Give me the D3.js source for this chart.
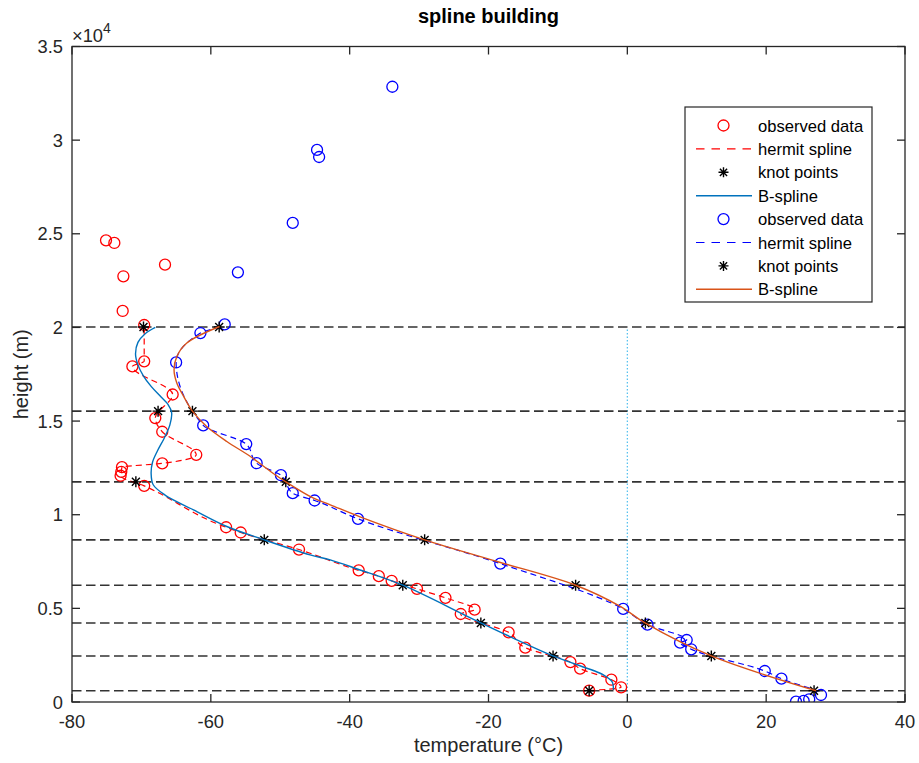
<!DOCTYPE html>
<html>
<head>
<meta charset="utf-8">
<script src="https://cdn.jsdelivr.net/npm/d3@7/dist/d3.min.js"></script>
<style>
  html, body { margin: 0; padding: 0; background: #fff; }
  svg { display: block; font-family: "Liberation Sans", Arial, Helvetica, sans-serif; }
</style>
</head>
<body>
<svg id="chart" width="919" height="763"></svg>
<script>
// ---- sounding 1 (red) : observed temperature (°C) and height (m)
const redT = [-5.5, -0.9, -2.3, -6.8, -8.2, -14.7, -17.1, -24.0, -22.0, -26.2, -30.3, -33.95, -35.8, -38.7,
  -47.3, -55.7, -57.8, -69.6, -73.0, -72.9, -72.8, -67.0, -62.1, -67.0, -68.0, -65.5, -71.3, -69.6,
  -69.6, -72.7, -72.6, -66.6, -73.9, -75.1];
const redH = [605, 785, 1190, 1780, 2130, 2900, 3720, 4700, 4930, 5560, 6040, 6470, 6720, 7030,
  8140, 9050, 9330, 11540, 12080, 12290, 12540, 12740, 13200, 14430, 15160, 16420, 17920, 18190,
  20130, 20880, 22730, 23350, 24510, 24650];

// ---- sounding 2 (blue) : observed temperature (°C) and height (m)
const blueT = [24.3, 25.4, 26.2, 27.9, 22.2, 19.8, 9.2, 7.6, 8.55, 2.9, -0.6, -18.3, -38.8, -45.05,
  -48.2, -49.9, -53.4, -54.9, -61.1, -65.0, -61.5, -58.0, -56.1, -48.2, -44.4, -44.7, -33.85];
const blueH = [15, 55, 145, 375, 1245, 1655, 2815, 3170, 3310, 4130, 4970, 7390, 9780, 10760,
  11150, 12110, 12750, 13770, 14770, 18130, 19700, 20160, 22940, 25580, 29100, 29480, 32850];

// ---- knot heights (m) and knot temperatures of each sounding
const knotH = [604, 2458, 4221, 6235, 8657, 11756, 15530, 20020];
const redKnotT = [-5.5, -10.7, -21.1, -32.35, -52.3, -70.8, -67.6, -69.7];
const blueKnotT = [26.9, 12.1, 2.6, -7.45, -29.2, -49.2, -62.65, -58.8];

// ---- fitted B-spline profiles (temperature, height)
const redSplineT = [-2.0, -2.2, -3.4, -10.7, -21.1, -32.35, -38.8, -42.8, -45.7, -52.3, -57.7, -62.5,
  -66.6, -68.3, -68.6, -68.4, -67.7, -66.7, -65.9, -65.65, -66.2, -67.2, -68.6, -69.7, -70.5, -70.85,
  -70.5, -69.5, -68.0];
const redSplineH = [640, 1085, 1440, 2458, 4221, 6235, 7090, 7590, 7855, 8657, 9370, 10260,
  11050, 11600, 12200, 12800, 13400, 14100, 14800, 15450, 15900, 16300, 16850, 17400, 18000, 18600,
  19200, 19650, 20000];
const blueSplineT = [27.2, 12.1, 2.55, -0.95, -7.45, -18.75, -29.2, -38.6, -42.8, -45.2, -49.2, -51.4,
  -54.3, -57.7, -60.6, -62.65, -63.9, -64.9, -65.3, -64.9, -63.5, -58.75];
const blueSplineH = [600, 2458, 4221, 5090, 6235, 7500, 8657, 9900, 10530, 10880, 11756, 12310,
  13110, 13910, 14710, 15530, 16310, 17030, 17740, 18450, 19160, 20050];

// ---- axis ticks
const xTicks = [-80, -60, -40, -20, 0, 20, 40];
const yTicks = [0, 5000, 10000, 15000, 20000, 25000, 30000, 35000];
const yTickLabels = ["0", "0.5", "1", "1.5", "2", "2.5", "3", "3.5"];

const legendItems = ["observed data", "hermit spline", "knot points", "B-spline",
  "observed data", "hermit spline", "knot points", "B-spline"];

const svg = d3.select("#chart");
const L = 72, R = 905, T = 46.5, B = 702;
const x = d3.scaleLinear().domain([-80, 40]).range([L, R]);
const y = d3.scaleLinear().domain([0, 35000]).range([B, T]);

const axisColor = "#262626";
const cRed = "#ff0000", cBlue = "#0000ff", cB1 = "#0072BD", cB2 = "#D95319";

svg.append("rect").attr("width", 919).attr("height", 763).attr("fill", "#fff");

const defs = svg.append("defs");
defs.append("clipPath").attr("id", "plotClip")
  .append("rect").attr("x", L).attr("y", T).attr("width", R - L).attr("height", B - T);
defs.append("clipPath").attr("id", "knotClip")
  .append("rect").attr("x", L).attr("y", y(knotH[knotH.length - 1]))
  .attr("width", R - L).attr("height", y(knotH[0]) - y(knotH[knotH.length - 1]));

const plot = svg.append("g").attr("clip-path", "url(#plotClip)");

// zero-temperature reference
plot.append("line")
  .attr("x1", x(0)).attr("x2", x(0)).attr("y1", y(0)).attr("y2", y(20000))
  .attr("stroke", "#4DBEEE").attr("stroke-width", 1.2).attr("stroke-dasharray", "1.5,2");

// knot level lines
plot.selectAll("line.knot").data(knotH).join("line")
  .attr("class", "knot")
  .attr("x1", L).attr("x2", R)
  .attr("y1", d => y(d)).attr("y2", d => y(d))
  .attr("stroke", "#333").attr("stroke-width", 1.6).attr("stroke-dasharray", "9.5,4.5");

const zip = (a, b) => a.map((v, i) => [v, b[i]]);
const lineMono = d3.line().x(d => x(d[0])).y(d => y(d[1])).curve(d3.curveMonotoneY);
const lineSmooth = d3.line().x(d => x(d[0])).y(d => y(d[1])).curve(d3.curveCatmullRom.alpha(0.5));

function asterisk(g, cx, cy, s) {
  const p = d3.path();
  p.moveTo(cx - s, cy); p.lineTo(cx + s, cy);
  p.moveTo(cx, cy - s); p.lineTo(cx, cy + s);
  const q = s * 0.72;
  p.moveTo(cx - q, cy - q); p.lineTo(cx + q, cy + q);
  p.moveTo(cx - q, cy + q); p.lineTo(cx + q, cy - q);
  g.append("path").attr("d", p.toString()).attr("stroke", "#000").attr("stroke-width", 1.4).attr("fill", "none");
}

function drawSounding(tArr, hArr, color, kT, sT, sH, splineColor) {
  const pts = zip(tArr, hArr);
  plot.selectAll(null).data(pts).join("circle")
    .attr("cx", d => x(d[0])).attr("cy", d => y(d[1])).attr("r", 5.5)
    .attr("fill", "none").attr("stroke", color).attr("stroke-width", 1.3);
  plot.append("path").datum(pts)
    .attr("clip-path", "url(#knotClip)")
    .attr("d", lineMono).attr("fill", "none").attr("stroke", color)
    .attr("stroke-width", 1.2).attr("stroke-dasharray", "6,4");
  const kg = plot.append("g");
  zip(kT, knotH).forEach(d => asterisk(kg, x(d[0]), y(d[1]), 5.5));
  plot.append("path").datum(zip(sT, sH))
    .attr("d", lineSmooth).attr("fill", "none").attr("stroke", splineColor).attr("stroke-width", 1.4);
}

drawSounding(redT, redH, cRed, redKnotT, redSplineT, redSplineH, cB1);
drawSounding(blueT, blueH, cBlue, blueKnotT, blueSplineT, blueSplineH, cB2);

// axes box and ticks
const ax = svg.append("g");
ax.append("rect").attr("x", L).attr("y", T).attr("width", R - L).attr("height", B - T)
  .attr("fill", "none").attr("stroke", axisColor).attr("stroke-width", 1.3);
const tl = 8;
xTicks.forEach(v => {
  ax.append("line").attr("x1", x(v)).attr("x2", x(v)).attr("y1", B).attr("y2", B - tl).attr("stroke", axisColor).attr("stroke-width", 1.3);
  ax.append("line").attr("x1", x(v)).attr("x2", x(v)).attr("y1", T).attr("y2", T + tl).attr("stroke", axisColor).attr("stroke-width", 1.3);
  ax.append("text").attr("x", x(v)).attr("y", B + 26).attr("text-anchor", "middle")
    .attr("font-size", 18.3).attr("fill", axisColor).text(v);
});
yTicks.forEach((v, i) => {
  ax.append("line").attr("x1", L).attr("x2", L + tl).attr("y1", y(v)).attr("y2", y(v)).attr("stroke", axisColor).attr("stroke-width", 1.3);
  ax.append("line").attr("x1", R).attr("x2", R - tl).attr("y1", y(v)).attr("y2", y(v)).attr("stroke", axisColor).attr("stroke-width", 1.3);
  ax.append("text").attr("x", L - 9).attr("y", y(v) + 6.5).attr("text-anchor", "end")
    .attr("font-size", 18.3).attr("fill", axisColor).text(yTickLabels[i]);
});

// exponent marker
const ex = ax.append("text").attr("x", 72).attr("y", 42).attr("font-size", 18.3).attr("fill", axisColor);
ex.append("tspan").text("\u00d710");
ex.append("tspan").attr("dy", -9).attr("font-size", 14).text("4");

// labels
svg.append("text").attr("x", (L + R) / 2).attr("y", 752).attr("text-anchor", "middle")
  .attr("font-size", 20).attr("fill", axisColor).text("temperature (°C)");
svg.append("text").attr("transform", `translate(28,${(T + B) / 2 + 0}) rotate(-90)`)
  .attr("x", 0).attr("y", 0).attr("text-anchor", "middle")
  .attr("font-size", 20).attr("fill", axisColor).text("height (m)");
svg.append("text").attr("x", (L + R) / 2).attr("y", 23).attr("text-anchor", "middle")
  .attr("font-size", 20).attr("font-weight", "bold").attr("fill", "#000").text("spline building");

// legend
const lg = svg.append("g");
lg.append("rect").attr("x", 685).attr("y", 107).attr("width", 187).attr("height", 195)
  .attr("fill", "#fff").attr("stroke", axisColor).attr("stroke-width", 1.2);
const rowY = i => 125.5 + i * 23.4;
legendItems.forEach((name, i) => {
  const yy = rowY(i);
  const kind = i % 4;
  const c = i < 4 ? cRed : cBlue;
  if (kind === 0) {
    lg.append("circle").attr("cx", 723.5).attr("cy", yy).attr("r", 5.5)
      .attr("fill", "none").attr("stroke", c).attr("stroke-width", 1.3);
  } else if (kind === 1) {
    lg.append("line").attr("x1", 696).attr("x2", 752).attr("y1", yy).attr("y2", yy)
      .attr("stroke", c).attr("stroke-width", 1.2).attr("stroke-dasharray", "8.5,7");
  } else if (kind === 2) {
    asterisk(lg, 723.5, yy, 5);
  } else {
    lg.append("line").attr("x1", 696).attr("x2", 752).attr("y1", yy).attr("y2", yy)
      .attr("stroke", i < 4 ? cB1 : cB2).attr("stroke-width", 1.4);
  }
  lg.append("text").attr("x", 758).attr("y", yy + 6).attr("font-size", 16.6)
    .attr("fill", "#000").text(name);
});
</script>
</body>
</html>
